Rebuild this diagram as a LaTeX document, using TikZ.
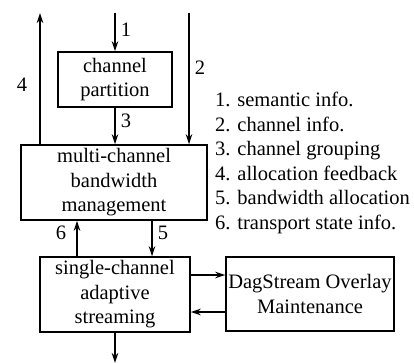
\documentclass[tikz,border=0pt]{standalone}
\usepackage{fontspec}
\setmainfont{Liberation Serif}
\usetikzlibrary{arrows.meta}
\begin{document}
\begin{tikzpicture}[x=1pt,y=-1pt,
  every node/.style={font=\fontsize{20.5}{24.5}\selectfont},
  blk/.style={draw,line width=1.4pt,inner sep=0pt,align=center},
  flow/.style={line width=1.8pt,-{Stealth[length=10pt,width=6.5pt]}},
  num/.style={inner sep=5pt}]
\useasboundingbox (0,0) rectangle (414,363);
% boxes
\node[blk,minimum width=114,minimum height=55] (partition) at (115,79.5) {channel\\partition};
\node[blk,minimum width=186,minimum height=75] (manage) at (114,182.5) {multi-channel\\bandwidth\\management};
\node[blk,minimum width=150,minimum height=75] (single) at (115,294.5) {single-channel\\adaptive\\streaming};
\node[blk,minimum width=168,minimum height=74] (overlay) at (310,294) {DagStream Overlay\\Maintenance};
\node[anchor=north west,align=left,inner sep=0pt] (legend) at (215,92) {1. semantic info.\\2. channel info.\\3. channel grouping\\4. allocation feedback\\5. bandwidth allocation\\6. transport state info.};
% free ends
\coordinate (in1) at (115,13);
\coordinate (in2) at (189,13);
\coordinate (out4) at (40,13);
\coordinate (down) at (115,363);
% arrows
\draw[flow] (in1) -- node[num,right,pos=0.45] (l1) {1} (partition);
\draw[flow] (in2) -- node[num,right,pos=0.42] (l2) {2} (in2 |- manage.north);
\draw[flow] (out4 |- manage.north) -- node[num,left,pos=0.45,xshift=-7] (l4) {4} (out4);
\draw[flow] (partition) -- node[num,right,pos=0.35] (l3) {3} (partition |- manage.north);
\draw[flow] ([xshift=-38]single.north) -- node[num,left,pos=0.65,xshift=-5] (l6) {6} ([xshift=-38]single.north |- manage.south);
\draw[flow] ([xshift=37]single.north |- manage.south) -- node[num,right,pos=0.35] (l5) {5} ([xshift=37]single.north);
\draw[flow] (single.east |- 0,275) -- (overlay.west |- 0,275);
\draw[flow] (overlay.west |- 0,312) -- (single.east |- 0,312);
\draw[flow] (single) -- (down);
\end{tikzpicture}
\end{document}
